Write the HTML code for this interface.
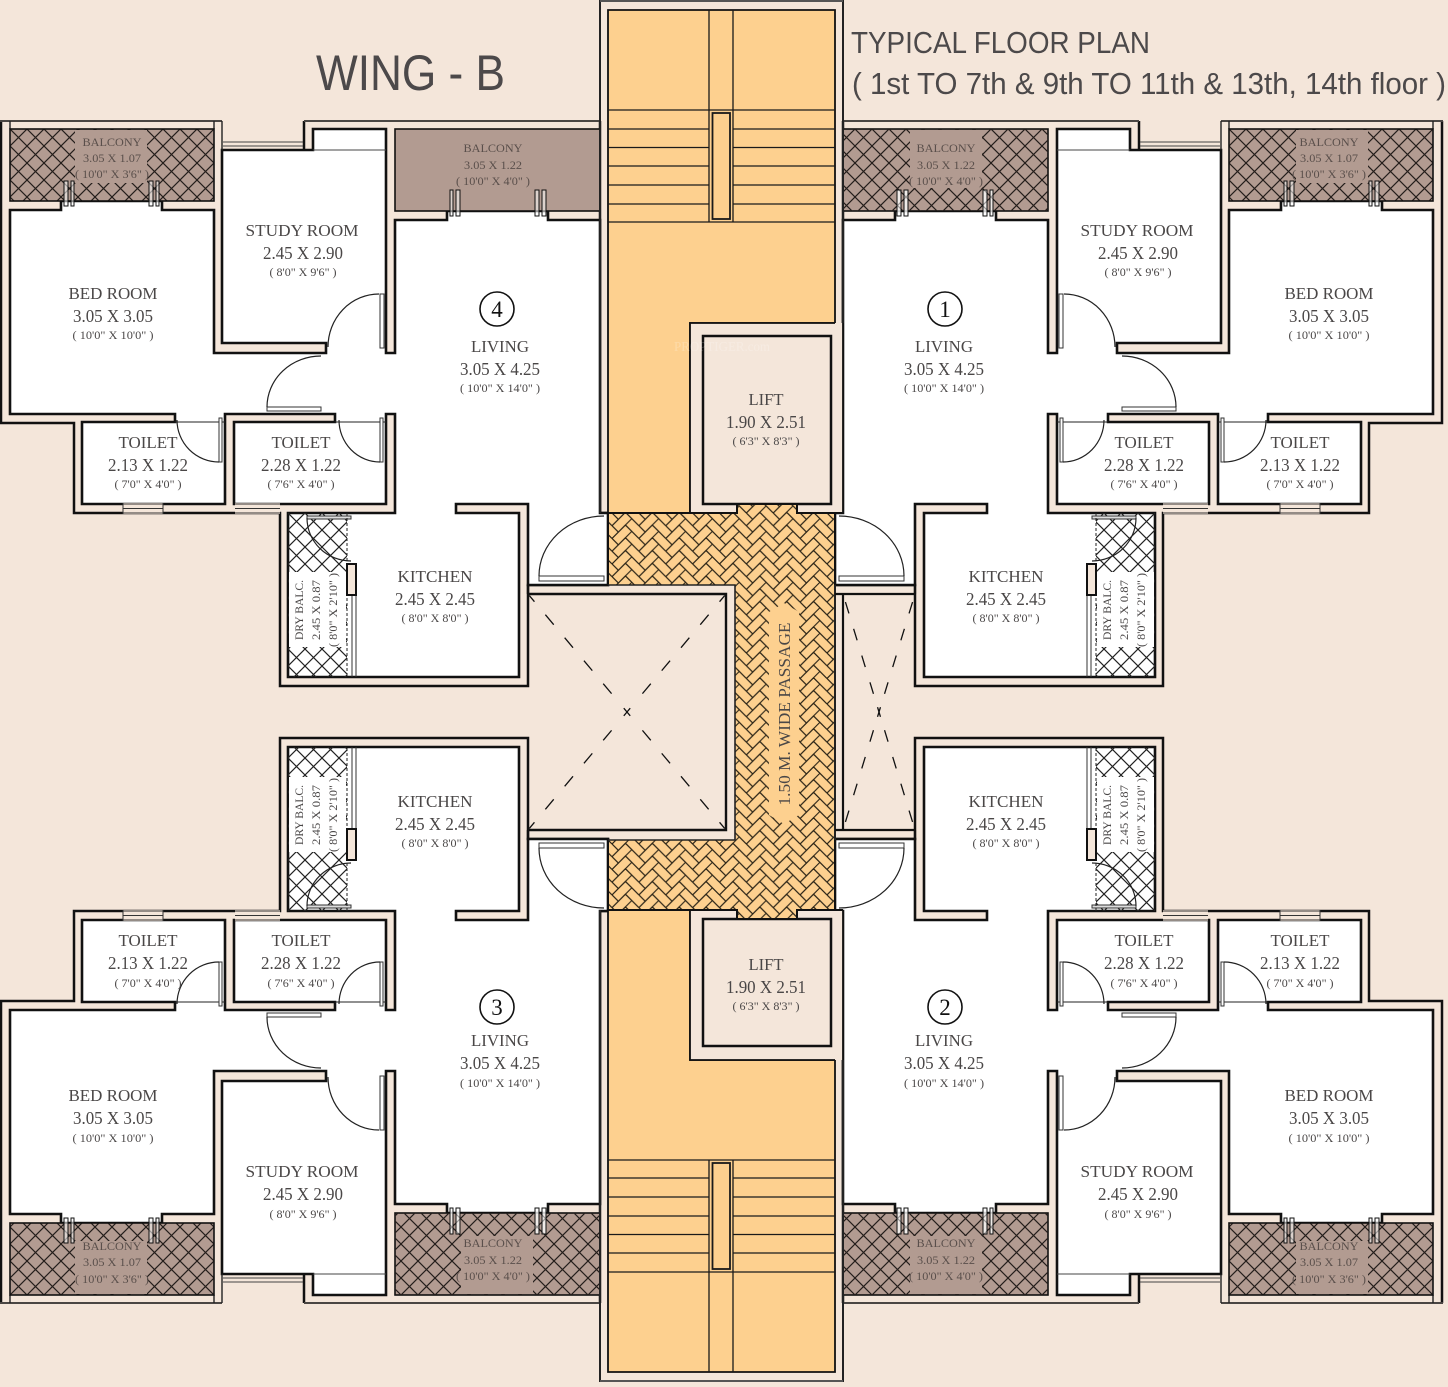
<!DOCTYPE html>
<html><head><meta charset="utf-8"><title>Wing B Typical Floor Plan</title>
<style>
html,body{margin:0;padding:0;background:#f4e6da}
svg{display:block}
text{font-family:"Liberation Serif",serif;fill:#4a4747;text-anchor:middle}
.a{font-size:17px}.b{font-size:18px}.c{font-size:12px}.d{font-size:12px;fill:#5a4f4b}
.t{font-family:"Liberation Sans",sans-serif;fill:#4c494a;text-anchor:start}
</style></head><body>
<svg width="1448" height="1387" viewBox="0 0 1448 1387" xmlns="http://www.w3.org/2000/svg">
<defs>
<pattern id="dia" patternUnits="userSpaceOnUse" width="17" height="17" x="10" y="129">
<path d="M-1-1L18 18M18-1L-1 18" stroke="#241e1b" stroke-width="1.2" fill="none"/>
</pattern>
<pattern id="dib" patternUnits="userSpaceOnUse" width="17" height="17" x="288" y="513">
<path d="M-1-1L18 18M18-1L-1 18" stroke="#222" stroke-width="1.2" fill="none"/>
</pattern>
<path id="hb" d="M0 0L13.44-13.44 19.8-7.08 6.36 6.36ZM13.43-.71L19.8-7.08 33.23 6.37 26.87 12.73Z" fill="none" stroke="#2b2416" stroke-width="1.1"/>
<pattern id="her" patternUnits="userSpaceOnUse" width="26.87" height="12.73" x="612" y="513">
<rect width="27" height="13" fill="#fdd08f"/>
<use href="#hb"/><use href="#hb" y="12.73"/><use href="#hb" y="25.46"/>
<use href="#hb" x="-26.87"/><use href="#hb" x="-26.87" y="12.73"/><use href="#hb" x="-26.87" y="25.46"/>
</pattern>
<g id="unit">
<path d="M1 121H222V150H304V121H600V513H608V585H528V686H280V513H74V423H1Z" fill="#f4e6da" stroke="none"/>
<path d="M1 121V423H74V513H280V686H528V585H608V513H600V121M304 121V150" fill="none" stroke="#111" stroke-width="2.5"/>
<path d="M0 121H222M304 121H600" fill="none" stroke="#4a4643" stroke-width="2"/>
<path d="M10 210H61V201H162V210H214V353H326V343H222V150H313V129H386V353H395V220H447V211H548V220H600V513H608V585H528V504H456V513H519V677H288V513H395V414H386V504H234V422H335V414H225V504H82V422H175V414H10Z" fill="#fff" stroke="#111" stroke-width="2.6"/>
<path d="M10 121V129M214 121V129M222 121V150" stroke="#222" stroke-width="1.4" fill="none"/>
<rect x="10" y="129" width="204" height="72" fill="#b29b91"/>
<rect x="10" y="129" width="204" height="72" fill="url(#dia)" stroke="#111" stroke-width="1.6"/>
<rect x="75" y="130" width="72" height="53" fill="#b29b91"/>
<rect x="395" y="129" width="205" height="82" fill="#b29b91" stroke="#111" stroke-width="1.6"/>
<path d="M223 142H303M223 146H303M313 150H386" stroke="#444" stroke-width="1" fill="none"/>
<rect x="123" y="503" width="40" height="11" fill="#f4e6da"/>
<rect x="235" y="503" width="45" height="11" fill="#f4e6da"/>
<path d="M123 504H163M123 508.5H163M123 513H163M123 503V514M163 503V514M235 504H280M235 508.5H280M235 513H280" stroke="#333" stroke-width="1" fill="none"/>
<path d="M175 422H225M335 422H386" stroke="#222" stroke-width="1" fill="none"/>
<g fill="#fff" stroke="#333" stroke-width="1">
<rect x="380" y="294" width="4" height="54"/>
<rect x="267" y="407" width="54" height="4"/>
<rect x="219" y="418" width="3" height="44"/>
<rect x="380" y="418" width="3" height="44"/>
<rect x="539" y="576" width="65" height="5"/>
</g>
<g fill="none" stroke="#222" stroke-width="1.2">
<path d="M379 294A51 53 0 0 0 328 347"/>
<path d="M267 407A54 51 0 0 1 321 356"/>
<path d="M177 420A42 42 0 0 0 219 462"/>
<path d="M339 420A41 42 0 0 0 380 462"/>
<path d="M539 576A65 60 0 0 1 604 516"/>
</g>
<rect x="288" y="513" width="59" height="164" fill="url(#dib)"/>
<rect x="289" y="572" width="57" height="75" fill="#fff"/>
<rect x="307" y="516" width="44" height="3" fill="#ddd" stroke="#333" stroke-width="1"/>
<path d="M307 518A44 43 0 0 0 351 561" fill="none" stroke="#222" stroke-width="1.2"/>
<path d="M347 513V677" stroke="#222" stroke-width="1" stroke-dasharray="3 2" fill="none"/>
<path d="M352 595V677M356 595V677" stroke="#333" stroke-width="1" fill="none"/>
<rect x="347" y="564" width="9" height="31" fill="#f4e6da" stroke="#111" stroke-width="2"/>
<g fill="#fff" fill-opacity=".55" stroke="#111" stroke-width="1">
<rect x="64" y="181" width="4" height="25"/><rect x="71" y="181" width="3" height="25"/>
<rect x="149" y="181" width="4" height="25"/><rect x="156" y="181" width="3" height="25"/>
<rect x="450" y="190" width="3" height="26"/><rect x="456" y="190" width="4" height="26"/>
<rect x="535" y="190" width="4" height="26"/><rect x="542" y="190" width="4" height="26"/>
</g>
</g>
<g id="lb">
<rect x="395" y="129" width="205" height="82" fill="url(#dia)"/>
<rect x="461" y="130" width="72" height="58" fill="#b29b91"/>
<g fill="#fff" fill-opacity=".55" stroke="#111" stroke-width="1">
<rect x="450" y="190" width="3" height="26"/><rect x="456" y="190" width="4" height="26"/>
<rect x="535" y="190" width="4" height="26"/><rect x="542" y="190" width="4" height="26"/>
</g>
</g>
</defs>
<rect width="1448" height="1387" fill="#f4e6da"/>

<!-- units -->
<use href="#unit"/>
<use href="#unit" transform="matrix(-1 0 0 1 1443 0)"/>
<use href="#unit" transform="matrix(1 0 0 -1 0 1424)"/>
<use href="#unit" transform="matrix(-1 0 0 -1 1443 1424)"/>
<use href="#lb" transform="matrix(-1 0 0 1 1443 0)"/>
<use href="#lb" transform="matrix(1 0 0 -1 0 1424)"/>
<use href="#lb" transform="matrix(-1 0 0 -1 1443 1424)"/>

<!-- stair core -->
<path d="M608 10H835V323H690V513H608Z" fill="#fdd08f" stroke="#111" stroke-width="1.8"/>
<path d="M608 910H690V1060H835V1372H608Z" fill="#fdd08f" stroke="#111" stroke-width="1.8"/>
<path d="M600 513V1H843V513M600 910V1381H843V910" fill="none" stroke="#222" stroke-width="2"/>
<path d="M600 1H843M600 1381H843" stroke="#555" stroke-width="2"/>
<rect x="690" y="323" width="153" height="190" fill="#f4e6da"/>
<path d="M690 513V323H835M843 323V513" fill="none" stroke="#111" stroke-width="1.8"/>
<rect x="703" y="336" width="128" height="168" fill="#f4e6da" stroke="#111" stroke-width="2.5"/>
<rect x="690" y="910" width="153" height="150" fill="#f4e6da"/>
<path d="M690 910V1060H835M843 910V1060" fill="none" stroke="#111" stroke-width="1.8"/>
<rect x="703" y="919" width="128" height="127" fill="#f4e6da" stroke="#111" stroke-width="2.5"/>
<g fill="none" stroke="#1a1a1a" stroke-width="1.3">
<path d="M709 10V222M733 10V222M608 110H835M608 129H709M733 129H835M608 147.500H709M733 147.500H835M608 166H709M733 166H835M608 185H709M733 185H835M608 204H709M733 204H835M608 222H835"/>
<rect x="712.500" y="113" width="17.500" height="106" stroke-width="1.800"/>
<path d="M709 1372V1160M733 1372V1160M608 1272H835M608 1253H709M733 1253H835M608 1234.500H709M733 1234.500H835M608 1216H709M733 1216H835M608 1197H709M733 1197H835M608 1178H709M733 1178H835M608 1160H835"/>
<rect x="712.500" y="1163" width="17.500" height="106" stroke-width="1.800"/>
</g>

<!-- passage -->
<path d="M608 513H737V504H797V513H835V910H797V919H737V910H608V840H735V585H608Z" fill="url(#her)"/>
<path d="M690 513H608M737 504V513H690M797 504V513H843M737 919V910H690M797 919V910H843M608 910H690M703 504H831M703 919H831M835 513V585M835 840V910M608 513V585M608 840V910" fill="none" stroke="#111" stroke-width="2"/>
<path d="M784 603L769 612V815L784 824 799 815V612Z" fill="#fdd08f"/>
<text transform="translate(790 714) rotate(-90)" font-size="17" textLength="183" lengthAdjust="spacingAndGlyphs">1.50 M. WIDE PASSAGE</text>

<!-- left duct -->
<path d="M608 585H735V840H608" fill="none" stroke="#222" stroke-width="1.6"/>
<path d="M528 594H726V830H528" fill="none" stroke="#111" stroke-width="2.4"/>
<path d="M528 585V594M528 830V840" stroke="#111" stroke-width="2.4"/>
<g stroke="#111" stroke-width="1.3" stroke-dasharray="5 19 13 17 13 17 13 17 13 17 8 100" fill="none">
<path d="M627 712L528 594"/><path d="M627 712L726 594"/><path d="M627 712L528 830"/><path d="M627 712L726 830"/>
</g>
<!-- right duct -->
<path d="M835 585V840" stroke="#222" stroke-width="2"/>
<path d="M843 594V830M835 594H915M835 830H915M915 585V594M915 830V840" fill="none" stroke="#111" stroke-width="2.2"/>
<g stroke="#111" stroke-width="1.3" stroke-dasharray="5 14 12 16 12 16 12 16 12 16 6 100" fill="none">
<path d="M879 712L843 594"/><path d="M879 712L915 594"/><path d="M879 712L843 830"/><path d="M879 712L915 830"/>
</g>
<text x="722" y="351" font-size="14" style="fill:#fff" opacity=".22" textLength="96" lengthAdjust="spacingAndGlyphs">PROPTIGER.com</text>

<!-- titles -->
<text class="t" x="316" y="90" font-size="50" textLength="189" lengthAdjust="spacingAndGlyphs">WING - B</text>
<text class="t" x="851" y="53" font-size="31" textLength="299" lengthAdjust="spacingAndGlyphs">TYPICAL FLOOR PLAN</text>
<text class="t" x="852" y="94" font-size="31" textLength="594" lengthAdjust="spacingAndGlyphs">( 1st TO 7th &amp; 9th TO 11th &amp; 13th, 14th floor )</text>

<!-- number circles -->
<g fill="#fff" stroke="#111" stroke-width="1.6">
<circle cx="497" cy="309" r="17"/><circle cx="945" cy="309" r="17"/><circle cx="497" cy="1007" r="17"/><circle cx="945" cy="1007" r="17"/>
</g>
<g font-size="23" style="fill:#111">
<text x="497" y="317" style="fill:#111">4</text><text x="945" y="317" style="fill:#111">1</text><text x="497" y="1015" style="fill:#111">3</text><text x="945" y="1015" style="fill:#111">2</text>
</g>

<!-- lift -->
<text class="a" x="766" y="405" textLength="35" lengthAdjust="spacingAndGlyphs">LIFT</text>
<text class="b" x="766" y="428" textLength="80" lengthAdjust="spacingAndGlyphs">1.90 X 2.51</text>
<text class="c" x="766" y="445" textLength="67" lengthAdjust="spacingAndGlyphs">( 6'3" X 8'3" )</text>
<text class="a" x="766" y="970" textLength="35" lengthAdjust="spacingAndGlyphs">LIFT</text>
<text class="b" x="766" y="993" textLength="80" lengthAdjust="spacingAndGlyphs">1.90 X 2.51</text>
<text class="c" x="766" y="1010" textLength="67" lengthAdjust="spacingAndGlyphs">( 6'3" X 8'3" )</text>

<!-- unit 4 -->
<text class="d" x="112" y="146" textLength="59" lengthAdjust="spacingAndGlyphs">BALCONY</text>
<text class="d" x="112" y="162" textLength="58" lengthAdjust="spacingAndGlyphs">3.05 X 1.07</text>
<text class="d" x="112" y="178" textLength="74" lengthAdjust="spacingAndGlyphs">( 10'0" X 3'6" )</text>
<text class="d" x="493" y="152" textLength="59" lengthAdjust="spacingAndGlyphs">BALCONY</text>
<text class="d" x="493" y="169" textLength="58" lengthAdjust="spacingAndGlyphs">3.05 X 1.22</text>
<text class="d" x="493" y="185" textLength="74" lengthAdjust="spacingAndGlyphs">( 10'0" X 4'0" )</text>
<text class="a" x="302" y="236" textLength="113" lengthAdjust="spacingAndGlyphs">STUDY ROOM</text>
<text class="b" x="303" y="259" textLength="80" lengthAdjust="spacingAndGlyphs">2.45 X 2.90</text>
<text class="c" x="303" y="276" textLength="67" lengthAdjust="spacingAndGlyphs">( 8'0" X 9'6" )</text>
<text class="a" x="113" y="299" textLength="89" lengthAdjust="spacingAndGlyphs">BED ROOM</text>
<text class="b" x="113" y="322" textLength="80" lengthAdjust="spacingAndGlyphs">3.05 X 3.05</text>
<text class="c" x="113" y="339" textLength="81" lengthAdjust="spacingAndGlyphs">( 10'0" X 10'0" )</text>
<text class="a" x="148" y="448" textLength="59" lengthAdjust="spacingAndGlyphs">TOILET</text>
<text class="b" x="148" y="471" textLength="80" lengthAdjust="spacingAndGlyphs">2.13 X 1.22</text>
<text class="c" x="148" y="488" textLength="67" lengthAdjust="spacingAndGlyphs">( 7'0" X 4'0" )</text>
<text class="a" x="301" y="448" textLength="59" lengthAdjust="spacingAndGlyphs">TOILET</text>
<text class="b" x="301" y="471" textLength="80" lengthAdjust="spacingAndGlyphs">2.28 X 1.22</text>
<text class="c" x="301" y="488" textLength="67" lengthAdjust="spacingAndGlyphs">( 7'6" X 4'0" )</text>
<text class="a" x="500" y="352" textLength="58" lengthAdjust="spacingAndGlyphs">LIVING</text>
<text class="b" x="500" y="375" textLength="80" lengthAdjust="spacingAndGlyphs">3.05 X 4.25</text>
<text class="c" x="500" y="392" textLength="80" lengthAdjust="spacingAndGlyphs">( 10'0" X 14'0" )</text>
<text class="a" x="435" y="582" textLength="75" lengthAdjust="spacingAndGlyphs">KITCHEN</text>
<text class="b" x="435" y="605" textLength="80" lengthAdjust="spacingAndGlyphs">2.45 X 2.45</text>
<text class="c" x="435" y="622" textLength="67" lengthAdjust="spacingAndGlyphs">( 8'0" X 8'0" )</text>
<text class="c" transform="translate(303 610) rotate(-90)" textLength="60" lengthAdjust="spacingAndGlyphs">DRY BALC.</text>
<text class="c" transform="translate(320 610) rotate(-90)" textLength="60" lengthAdjust="spacingAndGlyphs">2.45 X 0.87</text>
<text class="c" transform="translate(337 610) rotate(-90)" textLength="74" lengthAdjust="spacingAndGlyphs">( 8'0" X 2'10" )</text>

<!-- unit 1 -->
<text class="d" x="1329" y="146" textLength="59" lengthAdjust="spacingAndGlyphs">BALCONY</text>
<text class="d" x="1329" y="162" textLength="58" lengthAdjust="spacingAndGlyphs">3.05 X 1.07</text>
<text class="d" x="1329" y="178" textLength="74" lengthAdjust="spacingAndGlyphs">( 10'0" X 3'6" )</text>
<text class="d" x="946" y="152" textLength="59" lengthAdjust="spacingAndGlyphs">BALCONY</text>
<text class="d" x="946" y="169" textLength="58" lengthAdjust="spacingAndGlyphs">3.05 X 1.22</text>
<text class="d" x="946" y="185" textLength="74" lengthAdjust="spacingAndGlyphs">( 10'0" X 4'0" )</text>
<text class="a" x="1137" y="236" textLength="113" lengthAdjust="spacingAndGlyphs">STUDY ROOM</text>
<text class="b" x="1138" y="259" textLength="80" lengthAdjust="spacingAndGlyphs">2.45 X 2.90</text>
<text class="c" x="1138" y="276" textLength="67" lengthAdjust="spacingAndGlyphs">( 8'0" X 9'6" )</text>
<text class="a" x="1329" y="299" textLength="89" lengthAdjust="spacingAndGlyphs">BED ROOM</text>
<text class="b" x="1329" y="322" textLength="80" lengthAdjust="spacingAndGlyphs">3.05 X 3.05</text>
<text class="c" x="1329" y="339" textLength="81" lengthAdjust="spacingAndGlyphs">( 10'0" X 10'0" )</text>
<text class="a" x="1300" y="448" textLength="59" lengthAdjust="spacingAndGlyphs">TOILET</text>
<text class="b" x="1300" y="471" textLength="80" lengthAdjust="spacingAndGlyphs">2.13 X 1.22</text>
<text class="c" x="1300" y="488" textLength="67" lengthAdjust="spacingAndGlyphs">( 7'0" X 4'0" )</text>
<text class="a" x="1144" y="448" textLength="59" lengthAdjust="spacingAndGlyphs">TOILET</text>
<text class="b" x="1144" y="471" textLength="80" lengthAdjust="spacingAndGlyphs">2.28 X 1.22</text>
<text class="c" x="1144" y="488" textLength="67" lengthAdjust="spacingAndGlyphs">( 7'6" X 4'0" )</text>
<text class="a" x="944" y="352" textLength="58" lengthAdjust="spacingAndGlyphs">LIVING</text>
<text class="b" x="944" y="375" textLength="80" lengthAdjust="spacingAndGlyphs">3.05 X 4.25</text>
<text class="c" x="944" y="392" textLength="80" lengthAdjust="spacingAndGlyphs">( 10'0" X 14'0" )</text>
<text class="a" x="1006" y="582" textLength="75" lengthAdjust="spacingAndGlyphs">KITCHEN</text>
<text class="b" x="1006" y="605" textLength="80" lengthAdjust="spacingAndGlyphs">2.45 X 2.45</text>
<text class="c" x="1006" y="622" textLength="67" lengthAdjust="spacingAndGlyphs">( 8'0" X 8'0" )</text>
<text class="c" transform="translate(1111 610) rotate(-90)" textLength="60" lengthAdjust="spacingAndGlyphs">DRY BALC.</text>
<text class="c" transform="translate(1128 610) rotate(-90)" textLength="60" lengthAdjust="spacingAndGlyphs">2.45 X 0.87</text>
<text class="c" transform="translate(1145 610) rotate(-90)" textLength="74" lengthAdjust="spacingAndGlyphs">( 8'0" X 2'10" )</text>

<!-- unit 3 -->
<text class="d" x="112" y="1250" textLength="59" lengthAdjust="spacingAndGlyphs">BALCONY</text>
<text class="d" x="112" y="1266" textLength="58" lengthAdjust="spacingAndGlyphs">3.05 X 1.07</text>
<text class="d" x="112" y="1283" textLength="74" lengthAdjust="spacingAndGlyphs">( 10'0" X 3'6" )</text>
<text class="d" x="493" y="1247" textLength="59" lengthAdjust="spacingAndGlyphs">BALCONY</text>
<text class="d" x="493" y="1264" textLength="58" lengthAdjust="spacingAndGlyphs">3.05 X 1.22</text>
<text class="d" x="493" y="1280" textLength="74" lengthAdjust="spacingAndGlyphs">( 10'0" X 4'0" )</text>
<text class="a" x="302" y="1177" textLength="113" lengthAdjust="spacingAndGlyphs">STUDY ROOM</text>
<text class="b" x="303" y="1200" textLength="80" lengthAdjust="spacingAndGlyphs">2.45 X 2.90</text>
<text class="c" x="303" y="1218" textLength="67" lengthAdjust="spacingAndGlyphs">( 8'0" X 9'6" )</text>
<text class="a" x="113" y="1101" textLength="89" lengthAdjust="spacingAndGlyphs">BED ROOM</text>
<text class="b" x="113" y="1124" textLength="80" lengthAdjust="spacingAndGlyphs">3.05 X 3.05</text>
<text class="c" x="113" y="1142" textLength="81" lengthAdjust="spacingAndGlyphs">( 10'0" X 10'0" )</text>
<text class="a" x="148" y="946" textLength="59" lengthAdjust="spacingAndGlyphs">TOILET</text>
<text class="b" x="148" y="969" textLength="80" lengthAdjust="spacingAndGlyphs">2.13 X 1.22</text>
<text class="c" x="148" y="987" textLength="67" lengthAdjust="spacingAndGlyphs">( 7'0" X 4'0" )</text>
<text class="a" x="301" y="946" textLength="59" lengthAdjust="spacingAndGlyphs">TOILET</text>
<text class="b" x="301" y="969" textLength="80" lengthAdjust="spacingAndGlyphs">2.28 X 1.22</text>
<text class="c" x="301" y="987" textLength="67" lengthAdjust="spacingAndGlyphs">( 7'6" X 4'0" )</text>
<text class="a" x="500" y="1046" textLength="58" lengthAdjust="spacingAndGlyphs">LIVING</text>
<text class="b" x="500" y="1069" textLength="80" lengthAdjust="spacingAndGlyphs">3.05 X 4.25</text>
<text class="c" x="500" y="1087" textLength="80" lengthAdjust="spacingAndGlyphs">( 10'0" X 14'0" )</text>
<text class="a" x="435" y="807" textLength="75" lengthAdjust="spacingAndGlyphs">KITCHEN</text>
<text class="b" x="435" y="830" textLength="80" lengthAdjust="spacingAndGlyphs">2.45 X 2.45</text>
<text class="c" x="435" y="847" textLength="67" lengthAdjust="spacingAndGlyphs">( 8'0" X 8'0" )</text>
<text class="c" transform="translate(303 815) rotate(-90)" textLength="60" lengthAdjust="spacingAndGlyphs">DRY BALC.</text>
<text class="c" transform="translate(320 815) rotate(-90)" textLength="60" lengthAdjust="spacingAndGlyphs">2.45 X 0.87</text>
<text class="c" transform="translate(337 815) rotate(-90)" textLength="74" lengthAdjust="spacingAndGlyphs">( 8'0" X 2'10" )</text>

<!-- unit 2 -->
<text class="d" x="1329" y="1250" textLength="59" lengthAdjust="spacingAndGlyphs">BALCONY</text>
<text class="d" x="1329" y="1266" textLength="58" lengthAdjust="spacingAndGlyphs">3.05 X 1.07</text>
<text class="d" x="1329" y="1283" textLength="74" lengthAdjust="spacingAndGlyphs">( 10'0" X 3'6" )</text>
<text class="d" x="946" y="1247" textLength="59" lengthAdjust="spacingAndGlyphs">BALCONY</text>
<text class="d" x="946" y="1264" textLength="58" lengthAdjust="spacingAndGlyphs">3.05 X 1.22</text>
<text class="d" x="946" y="1280" textLength="74" lengthAdjust="spacingAndGlyphs">( 10'0" X 4'0" )</text>
<text class="a" x="1137" y="1177" textLength="113" lengthAdjust="spacingAndGlyphs">STUDY ROOM</text>
<text class="b" x="1138" y="1200" textLength="80" lengthAdjust="spacingAndGlyphs">2.45 X 2.90</text>
<text class="c" x="1138" y="1218" textLength="67" lengthAdjust="spacingAndGlyphs">( 8'0" X 9'6" )</text>
<text class="a" x="1329" y="1101" textLength="89" lengthAdjust="spacingAndGlyphs">BED ROOM</text>
<text class="b" x="1329" y="1124" textLength="80" lengthAdjust="spacingAndGlyphs">3.05 X 3.05</text>
<text class="c" x="1329" y="1142" textLength="81" lengthAdjust="spacingAndGlyphs">( 10'0" X 10'0" )</text>
<text class="a" x="1300" y="946" textLength="59" lengthAdjust="spacingAndGlyphs">TOILET</text>
<text class="b" x="1300" y="969" textLength="80" lengthAdjust="spacingAndGlyphs">2.13 X 1.22</text>
<text class="c" x="1300" y="987" textLength="67" lengthAdjust="spacingAndGlyphs">( 7'0" X 4'0" )</text>
<text class="a" x="1144" y="946" textLength="59" lengthAdjust="spacingAndGlyphs">TOILET</text>
<text class="b" x="1144" y="969" textLength="80" lengthAdjust="spacingAndGlyphs">2.28 X 1.22</text>
<text class="c" x="1144" y="987" textLength="67" lengthAdjust="spacingAndGlyphs">( 7'6" X 4'0" )</text>
<text class="a" x="944" y="1046" textLength="58" lengthAdjust="spacingAndGlyphs">LIVING</text>
<text class="b" x="944" y="1069" textLength="80" lengthAdjust="spacingAndGlyphs">3.05 X 4.25</text>
<text class="c" x="944" y="1087" textLength="80" lengthAdjust="spacingAndGlyphs">( 10'0" X 14'0" )</text>
<text class="a" x="1006" y="807" textLength="75" lengthAdjust="spacingAndGlyphs">KITCHEN</text>
<text class="b" x="1006" y="830" textLength="80" lengthAdjust="spacingAndGlyphs">2.45 X 2.45</text>
<text class="c" x="1006" y="847" textLength="67" lengthAdjust="spacingAndGlyphs">( 8'0" X 8'0" )</text>
<text class="c" transform="translate(1111 815) rotate(-90)" textLength="60" lengthAdjust="spacingAndGlyphs">DRY BALC.</text>
<text class="c" transform="translate(1128 815) rotate(-90)" textLength="60" lengthAdjust="spacingAndGlyphs">2.45 X 0.87</text>
<text class="c" transform="translate(1145 815) rotate(-90)" textLength="74" lengthAdjust="spacingAndGlyphs">( 8'0" X 2'10" )</text>
</svg>
</body></html>
